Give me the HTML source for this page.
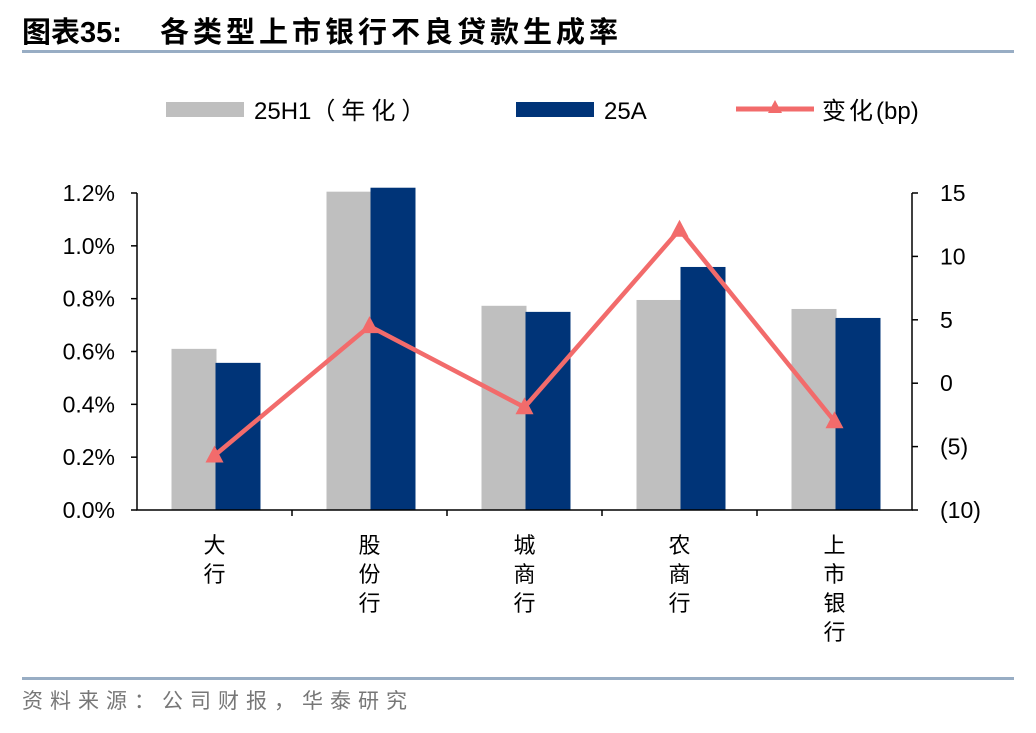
<!DOCTYPE html>
<html><head><meta charset="utf-8"><style>
body{margin:0;background:#fff;width:1036px;height:728px;overflow:hidden;font-family:"Liberation Sans","Noto Sans CJK SC",sans-serif;}
</style></head><body>
<svg width="1036" height="728" xmlns="http://www.w3.org/2000/svg" font-family="Liberation Sans, Noto Sans CJK SC, sans-serif">
<text x="22" y="42" font-size="29" font-weight="bold" fill="#000"><tspan>图表35:</tspan><tspan x="160" letter-spacing="4">各类型上市银行不良贷款生成率</tspan></text>
<rect x="22" y="50" width="992" height="3" fill="#98adc4"/>
<g>
<rect x="166" y="102" width="78" height="15" fill="#bfbfbf"/>
<text x="254" y="119" font-size="24">25H1<tspan letter-spacing="6">（年化）</tspan></text>
<rect x="516" y="102" width="78" height="15" fill="#003478"/>
<text x="604" y="119" font-size="24">25A</text>
<line x1="736" y1="109" x2="814" y2="109" stroke="#f26b6b" stroke-width="5"/>
<polygon points="775,100 782,113 768,113" fill="#f26b6b"/>
<text x="822" y="119" font-size="24"><tspan letter-spacing="3">变化</tspan>(bp)</text>
</g>
<g id="plot"></g>
<rect x="22" y="677" width="992" height="3" fill="#98adc4"/>
<text x="22" y="708" font-size="21" fill="#777" letter-spacing="7">资料来源：公司财报，华泰研究</text>
</svg>
<script>
const categories=[["大","行"],["股","份","行"],["城","商","行"],["农","商","行"],["上","市","银","行"]];
const series25H1=[0.61,1.205,0.773,0.795,0.761];
const series25A=[0.557,1.22,0.75,0.92,0.727];
const changeBp=[-5.7,4.5,-1.9,12.1,-3.0];
const leftTicks=[0,0.2,0.4,0.6,0.8,1.0,1.2];
const rightTicks=[-10,-5,0,5,10,15];
const rightTickLabels=["(10)","(5)","0","5","10","15"];
const NS="http://www.w3.org/2000/svg";
const g=document.getElementById('plot');
const X0=137,X1=912,Y0=510,Y1=193;
const yL=v=>Y0-(v/1.2)*(Y0-Y1);
const yR=v=>Y0-((v+10)/25)*(Y0-Y1);
const band=(X1-X0)/categories.length;
const cx=i=>X0+band*(i+0.5);
function el(t,a,txt){const e=document.createElementNS(NS,t);for(const k in a)e.setAttribute(k,a[k]);if(txt!==undefined)e.textContent=txt;g.appendChild(e);return e;}
leftTicks.forEach(v=>{
 const t=el('text',{x:X0-22,y:yL(v)+8,'font-size':23,'text-anchor':'end'},v.toFixed(1)+'%');
 
 
 const l=el('line',{x1:X0-6,x2:X0,y1:yL(v),y2:yL(v),stroke:'#000','stroke-width':1.5});
 
 
});
rightTicks.forEach((v,i)=>{
 const t=el('text',{x:X1+28,y:yR(v)+8,'font-size':23},rightTickLabels[i]);
 
 
 const l=el('line',{x1:X1,x2:X1+6,y1:yR(v),y2:yR(v),stroke:'#000','stroke-width':1.5});
 
 
});
categories.forEach((c,i)=>{
 const a=el('rect',{x:cx(i)-43,y:yL(series25H1[i]),width:45,height:Y0-yL(series25H1[i]),fill:'#bfbfbf'});
 
 
 const b=el('rect',{x:cx(i)+1,y:yL(series25A[i]),width:45,height:Y0-yL(series25A[i]),fill:'#003478'});
 
 
 c.forEach((ch,j)=>{
  const t=el('text',{x:cx(i),y:553+j*29,'font-size':22,'text-anchor':'middle'},ch);
  
  
 });
 if(i>0){const l=el('line',{x1:X0+band*i,x2:X0+band*i,y1:Y0,y2:Y0+6,stroke:'#000','stroke-width':1.5});
 
 }
});
const ax=el('path',{d:`M${X0},${Y1} V${Y0} H${X1} V${Y1}`,fill:'none',stroke:'#000','stroke-width':1.5});


const pl=el('polyline',{points:changeBp.map((v,i)=>cx(i)+','+yR(v)).join(' '),fill:'none',stroke:'#f26b6b','stroke-width':4.5});


changeBp.forEach((v,i)=>{
 const x=cx(i),y=yR(v);
 const p=el('polygon',{points:`${x},${y-10} ${x+9},${y+7} ${x-9},${y+7}`,fill:'#f26b6b'});
 
 
});
</script>
</body></html>
